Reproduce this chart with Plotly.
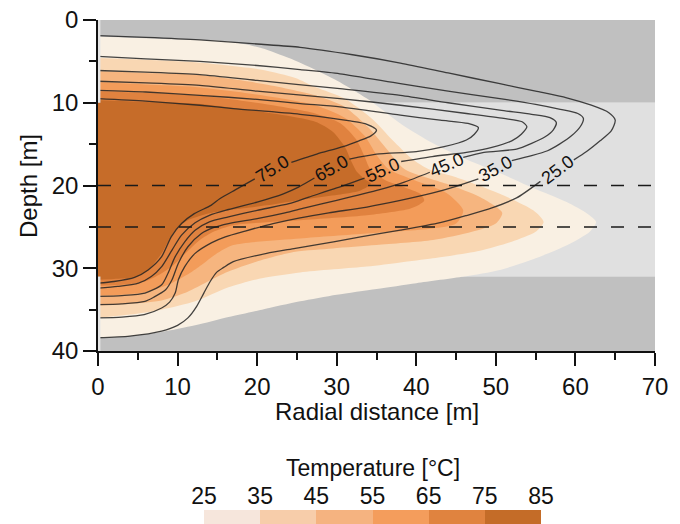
import plotly.graph_objects as go

# ---------------- data ----------------
layer_depths = [0, 10, 31, 40]          # geological layer boundaries (m)
dashed_depths = [20, 25]                # screen depths (m)
levels = [25, 35, 45, 55, 65, 75, 85]   # temperature levels (degC)

# filled isotherms (radial distance r [m], depth d [m])
iso25_r = [0, 8, 16.4, 20.6, 24, 27.3, 30, 33.8, 38, 42.1, 46.4, 50.5, 54.7, 58.9, 61.5, 62.6, 61.8, 59, 55, 50.5, 46, 40, 35, 30, 25.4, 20.6, 16.4, 12.2, 8, 4, 0]
iso25_d = [2.0, 2.3, 2.6, 3.4, 4.6, 6.0, 7.3, 9.5, 12.5, 14.9, 16.9, 18.5, 20.3, 22.0, 23.4, 24.4, 25.6, 27.2, 28.8, 30.2, 31.0, 31.8, 32.5, 33.2, 34.0, 35.0, 35.9, 36.9, 37.7, 38.2, 38.5]
iso35_r = [0, 6, 12.2, 20.6, 24.8, 27.3, 31, 34.5, 37, 39.5, 41.5, 45, 50.5, 54.7, 56, 55, 52, 48, 42.1, 38, 33.8, 25.4, 20.6, 16.4, 12.2, 8, 4, 0]
iso35_d = [4.6, 4.8, 5.1, 6.0, 7.0, 8.1, 9.5, 12.0, 14.5, 16.8, 18.0, 19.0, 21.0, 23.0, 24.4, 25.6, 26.8, 27.9, 28.8, 29.3, 29.8, 30.5, 31.2, 32.3, 34.0, 35.0, 35.6, 36.0]
iso45_r = [0, 6, 12.2, 20.6, 27.3, 31, 34, 36.2, 38.5, 43.8, 48, 50.8, 50, 47, 42.1, 35, 29.5, 24.8, 20.6, 16.4, 13.4, 10.9, 8, 4, 0]
iso45_d = [6.2, 6.4, 6.6, 7.7, 9.1, 10.5, 13.0, 15.5, 18.0, 19.8, 21.4, 23.3, 24.6, 25.6, 26.6, 27.2, 27.6, 28.0, 29.0, 30.4, 31.8, 33.0, 33.9, 34.3, 34.5]
iso55_r = [0, 6, 12.2, 20.6, 27.3, 31, 33.5, 35, 36.5, 39.6, 43.8, 45.9, 45, 42, 33.8, 25.4, 17, 14.8, 13, 11.5, 8.8, 5.9, 3, 0]
iso55_d = [7.5, 7.8, 8.1, 9.1, 10.3, 11.8, 14.0, 16.3, 18.0, 19.3, 20.9, 23.0, 24.6, 25.2, 25.8, 26.4, 27.2, 28.3, 29.6, 30.6, 32.0, 32.9, 33.2, 33.3]
iso65_r = [0, 12.2, 20.6, 27.3, 30.5, 32.5, 33.5, 34.2, 36, 38.5, 40.5, 41, 40, 38.8, 33.8, 25.4, 17, 14.5, 12.8, 11, 9.5, 8, 5.9, 3, 0]
iso65_d = [8.6, 9.1, 10.1, 11.3, 12.5, 14.5, 16.5, 18.0, 19.3, 20.2, 21.0, 21.8, 22.5, 22.9, 23.6, 24.2, 24.8, 25.6, 26.6, 28.2, 29.6, 30.6, 31.6, 32.0, 32.1]
iso75_r = [0, 6, 12.2, 20.6, 27.3, 29.5, 31, 31.8, 32.5, 33.5, 34.3, 33, 31, 25, 21.2, 17, 14.3, 11.3, 9.7, 8.8, 8, 6.3, 4.65, 2, 0]
iso75_d = [9.7, 9.9, 10.1, 11.1, 12.3, 13.5, 15.3, 17.0, 18.3, 19.2, 19.8, 20.6, 21.0, 21.8, 22.4, 22.9, 23.3, 24.2, 25.4, 26.8, 28.2, 30.2, 31.1, 31.3, 31.4]

# line isotherms (second state), None = gap for the inline label
line25_r = [0, 6, 12.8, 20, 25.4, 32, 38, 44, 50.5, 55, 58.9, 62, 64.2, 65, 64.5, 63.1, 61.4, 59.8, None, 55.6, 52.6, 49.5, 46.4, 43, 38, 33, 29.6, 24.8, 21.2, 17, 15.8, 14.9, 14.1, 13.3, 12.4, 11.3, 10, 8, 4, 0]
line25_d = [1.9, 2.1, 2.4, 2.9, 3.3, 4.2, 5.2, 6.4, 7.7, 8.6, 9.4, 10.3, 11.2, 12.1, 13.4, 14.6, 15.9, 16.9, None, 19.5, 21.5, 22.7, 23.6, 24.5, 25.4, 26.2, 26.8, 27.6, 28.2, 29.2, 29.9, 30.5, 31.6, 33.0, 34.6, 36.0, 36.9, 37.6, 38.2, 38.4]
line35_r = [0, 6, 12.8, 20, 25.4, 30.4, 38, 44, 50.5, 55, 58.1, 60.3, 61, 60.6, 59.5, 58, 56.5, 54.5, 52.0, None, 47.8, 45, 42.1, 38, 33.8, 29, 25.4, 22, 18.5, 16, 14.3, 12.2, 10.9, 10.1, 9.7, 9, 8, 5.8, 3, 0]
line35_d = [4.4, 4.7, 5.0, 5.5, 6.0, 6.5, 7.7, 8.6, 9.5, 10.2, 10.8, 11.3, 11.9, 12.9, 14.0, 15.0, 15.8, 16.4, 17.0, None, 19.2, 20.1, 20.9, 21.8, 22.6, 23.3, 23.9, 24.6, 25.5, 26.2, 26.9, 28.2, 29.8, 31.4, 33.0, 34.1, 34.8, 35.6, 35.9, 36.0]
line45_r = [0, 6, 12.8, 20, 30.4, 38, 44, 50.5, 54.5, 56.8, 57.6, 57.2, 56.2, 54.5, 52.6, 48.5, 45.9, None, 41.7, 38.5, 35.4, 30, 26, 23.5, 20, 16.4, 14.5, 13.0, 11.3, 10.1, 9.3, 8.5, 7, 5.9, 3, 0]
line45_d = [6.1, 6.3, 6.6, 7.3, 8.3, 9.1, 10.0, 10.9, 11.4, 11.8, 12.4, 13.3, 14.1, 14.9, 15.6, 16.0, 16.6, None, 18.4, 19.6, 20.5, 21.8, 22.7, 23.3, 24.0, 24.6, 25.1, 25.8, 27.4, 29.4, 31.4, 32.6, 33.5, 34.0, 34.3, 34.4]
line55_r = [0, 6, 12.8, 20, 30.4, 38, 46.3, 51, 53.3, 53.9, 53.2, 52, 49.5, 46.3, 42, 38.1, None, 33.5, 30, 26.5, 24, 20, 16.4, 14, 12.2, 10.9, 9.7, 8.8, 8, 5.9, 3, 0]
line55_d = [7.4, 7.6, 7.9, 8.6, 9.5, 10.3, 11.3, 11.9, 12.3, 12.9, 13.8, 14.6, 15.4, 16.0, 16.5, 17.1, None, 19.1, 20.3, 21.4, 22.2, 23.0, 23.8, 24.4, 25.4, 26.8, 28.6, 30.6, 32.0, 33.0, 33.3, 33.4]
line65_r = [0, 6, 12.8, 20, 25.4, 30.4, 38, 43, 46.5, 47.8, 47.3, 46.3, 43.5, 40, 35, 31.6, None, 27.2, 25.2, 23.3, 20, 16.4, 14, 12.2, 10.5, 9.3, 8, 6.7, 5.1, 2.5, 0]
line65_d = [8.5, 8.7, 9.1, 9.6, 10.1, 10.5, 11.5, 12.1, 12.5, 13.0, 13.8, 14.5, 15.3, 15.9, 16.2, 16.8, None, 19.1, 20.2, 21.0, 22.0, 22.9, 23.6, 24.5, 26.0, 27.8, 29.8, 31.0, 31.8, 32.2, 32.4]
line75_r = [0, 6, 12.8, 17, 25.4, 31.7, 33.8, 35, 34.3, 32.8, 30.8, 27.5, 24.3, None, 19.7, 17.3, 15.3, 14.2, 12.1, 10.5, 9.2, 8, 6.3, 4.6, 2, 0]
line75_d = [9.5, 9.8, 10.3, 10.7, 11.4, 12.2, 12.6, 13.3, 14.0, 14.6, 15.3, 16.2, 17.2, None, 19.2, 20.5, 21.6, 22.4, 23.4, 24.6, 26.2, 28.6, 30.2, 31.1, 31.6, 31.8]

# inline labels: text, r, d, angle
label_text = ["75.0", "65.0", "55.0", "45.0", "35.0", "25.0"]
label_r = [21.9, 29.4, 35.8, 43.8, 49.9, 57.7]
label_d = [18.0, 17.9, 18.1, 17.5, 18.0, 18.1]
label_angle = [-32, -30, -25, -24, -29, -37]

# ---------------- styles ----------------
FONT = "Liberation Sans, Arial, sans-serif"
fill_colors = ["#f9f0e3", "#f9d7b3", "#f6b57f", "#f39c5a", "#e0823f", "#c66c29"]
bar_colors = ["#f6e6dc", "#f7cdaa", "#f5b380", "#f49d5c", "#e0833f", "#c46c28"]
layer_colors = ["#c0c0c0", "#e0e0e0", "#c0c0c0"]

fig = go.Figure()

isos = [(iso25_r, iso25_d), (iso35_r, iso35_d), (iso45_r, iso45_d),
        (iso55_r, iso55_d), (iso65_r, iso65_d), (iso75_r, iso75_d)]
for (r, d), c in zip(isos, fill_colors):
    fig.add_trace(go.Scatter(x=r, y=d, mode="lines", fill="toself", fillcolor=c,
                             line=dict(width=0, color=c, shape="spline", smoothing=0.7),
                             hoverinfo="skip", showlegend=False))

lines = [(line25_r, line25_d), (line35_r, line35_d), (line45_r, line45_d),
         (line55_r, line55_d), (line65_r, line65_d), (line75_r, line75_d)]
for r, d in lines:
    fig.add_trace(go.Scatter(x=r, y=d, mode="lines",
                             line=dict(width=1.3, color="rgba(35,35,35,0.85)", shape="spline", smoothing=0.7),
                             hoverinfo="skip", showlegend=False))

for dd in dashed_depths:
    fig.add_trace(go.Scatter(x=[0, 70], y=[dd, dd], mode="lines",
                             line=dict(width=1.5, color="#1a1a1a", dash="13px,14px"),
                             hoverinfo="skip", showlegend=False))

# colour bar drawn as a one-row heatmap on its own axes
n = len(levels) - 1
cscale = []
for i, c in enumerate(bar_colors):
    cscale.append([i / n, c])
    cscale.append([(i + 1) / n, c])
mids = [(levels[i] + levels[i + 1]) / 2 for i in range(n)]
fig.add_trace(go.Heatmap(x=levels, y=[0, 1], z=[mids], colorscale=cscale,
                         zmin=levels[0], zmax=levels[-1], showscale=False,
                         xaxis="x2", yaxis="y2", hoverinfo="skip"))

shapes = []
for i in range(len(layer_depths) - 1):
    shapes.append(dict(type="rect", xref="x", yref="y", x0=0, x1=70,
                       y0=layer_depths[i], y1=layer_depths[i + 1],
                       fillcolor=layer_colors[i], line=dict(width=0), layer="below"))
# thin well strip at r = 0 outside the aquifer
for y0, y1 in [(layer_depths[0], layer_depths[1]), (layer_depths[2], layer_depths[3])]:
    shapes.append(dict(type="rect", xref="x", yref="y", x0=0, x1=0.3, y0=y0, y1=y1,
                       fillcolor="#e4e4e4", line=dict(width=0), layer="above"))

# geometry of the page in pixels -> paper fractions
W, H = 680, 524
ML, MR, MT, MB = 98, 25, 20, 0
PW, PH = W - ML - MR, H - MT - MB
def px(x):
    return (x - ML) / PW
def py(y):
    return (H - MB - y) / PH

annotations = []
for t, r, d, a in zip(label_text, label_r, label_d, label_angle):
    annotations.append(dict(x=r, y=d, xref="x", yref="y", text=t, textangle=a,
                            showarrow=False, font=dict(family=FONT, size=18, color="#111111")))
annotations.append(dict(x=px(372.5), y=py(468), xref="paper", yref="paper", text="Temperature [°C]",
                        showarrow=False, xanchor="center", yanchor="middle",
                        font=dict(family=FONT, size=23, color="#111111")))
annotations.append(dict(x=px(28), y=py(186), xref="paper", yref="paper", text="Depth [m]",
                        textangle=-90, showarrow=False, xanchor="center", yanchor="middle",
                        font=dict(family=FONT, size=24, color="#111111")))
annotations.append(dict(x=px(376.5), y=py(411), xref="paper", yref="paper", text="Radial distance [m]",
                        showarrow=False, xanchor="center", yanchor="middle",
                        font=dict(family=FONT, size=24, color="#111111")))

fig.update_layout(
    width=W, height=H, autosize=False,
    margin=dict(l=ML, r=MR, t=MT, b=MB, pad=0, autoexpand=False),
    paper_bgcolor="white", plot_bgcolor="white",
    font=dict(family=FONT, size=24, color="#111111"),
    shapes=shapes, annotations=annotations,
    xaxis=dict(range=[0, 70], domain=[0, 1], anchor="y", showgrid=False, zeroline=False,
               automargin=False,
               showline=True, linecolor="#111111", linewidth=1.5,
               ticks="outside", ticklen=13, tickwidth=1.5, tickcolor="#111111",
               tickvals=[0, 10, 20, 30, 40, 50, 60, 70],
               minor=dict(ticks="outside", ticklen=7, tickwidth=1.5, tickcolor="#111111",
                          tickvals=[5, 15, 25, 35, 45, 55, 65]),
               tickfont=dict(size=24)),
    yaxis=dict(range=[40, 0], domain=[py(351), 1], anchor="x", showgrid=False, zeroline=False,
               automargin=False,
               showline=True, linecolor="#111111", linewidth=1.5,
               ticks="outside", ticklen=13, tickwidth=1.5, tickcolor="#111111",
               tickvals=[0, 10, 20, 30, 40],
               minor=dict(ticks="outside", ticklen=7, tickwidth=1.5, tickcolor="#111111",
                          tickvals=[5, 15, 25, 35]),
               tickfont=dict(size=24)),
    xaxis2=dict(range=[levels[0], levels[-1]], domain=[px(204), px(541)], anchor="y2",
                automargin=False,
                side="top", tickvals=levels, ticks="", showline=False, showgrid=False,
                zeroline=False, tickfont=dict(size=23)),
    yaxis2=dict(range=[0, 1], domain=[0, py(510)], anchor="x2", visible=False, automargin=False),
)

fig.write_html("out.html")
